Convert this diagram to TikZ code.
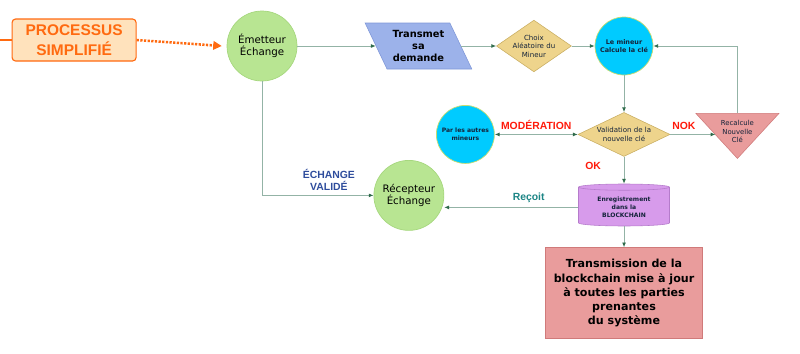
\documentclass[tikz,border=0pt]{standalone}
\usepackage{fontspec}
\setmainfont{DejaVu Sans}
\newfontfamily\labelfont{Liberation Sans}
\usepackage{xcolor}
\usetikzlibrary{arrows.meta, positioning, calc, shapes.geometric}

\definecolor{orangeline}{HTML}{FF6A10}
\definecolor{peach}{HTML}{FFE2BC}
\definecolor{leaf}{HTML}{B8E592}
\definecolor{leafrim}{HTML}{A6D77E}
\definecolor{skyblue}{HTML}{00CBFF}
\definecolor{skyrim}{HTML}{C8DC70}
\definecolor{periwinkle}{HTML}{9CB2EA}
\definecolor{peririm}{HTML}{7F97D8}
\definecolor{sand}{HTML}{EED48C}
\definecolor{sandrim}{HTML}{C9AE62}
\definecolor{rose}{HTML}{E99C9C}
\definecolor{roserim}{HTML}{D07A7A}
\definecolor{lilac}{HTML}{D79BEB}
\definecolor{lilacrim}{HTML}{B57BCB}
\definecolor{wire}{HTML}{93B3A6}
\definecolor{tipgreen}{HTML}{2F6B4B}
\definecolor{alertred}{HTML}{FF1A0A}
\definecolor{navytext}{HTML}{2E4C9C}
\definecolor{tealtext}{HTML}{1C8585}
\definecolor{inktext}{HTML}{14233A}

\tikzset{gtip/.tip={Latex[length=3.4pt, width=2.8pt, color=tipgreen]}}

\begin{document}
\begin{tikzpicture}[
  orb/.style={circle, draw=leafrim, fill=leaf, line width=0.5pt, inner sep=0pt, align=center},
  gate/.style={diamond, draw=sandrim, fill=sand, inner sep=0pt, align=center,
               text=inktext, font=\fontsize{5}{6}\selectfont},
  arr/.style={draw=wire, line width=0.6pt, -gtip},
  lbl/.style={font=\labelfont\bfseries\fontsize{7.4}{8.5}\selectfont, align=center},
  smalltext/.style={font=\fontsize{4.9}{6}\selectfont, align=center, text=inktext}
]
  \useasboundingbox (0,0) rectangle (20,-8.825);

  \node[orb, minimum size=1.75cm, font=\fontsize{7.3}{8.6}\selectfont] (emet) at (6.55,-1.15) {Émetteur\\Échange};
  \node[draw=orangeline, fill=peach, line width=0.8pt, rounded corners=2.5pt,
        minimum width=3.1cm, minimum height=1.05cm, text=orangeline, align=center,
        font=\labelfont\bfseries\fontsize{11}{14}\selectfont,
        left=2.25cm of emet, yshift=0.15cm] (proc) {PROCESSUS\\SIMPLIFIÉ};
  \node[trapezium, trapezium left angle=120, trapezium right angle=60, trapezium stretches=true,
        draw=peririm, fill=periwinkle, minimum width=2.675cm, minimum height=1.15cm, inner sep=0pt,
        align=center, font=\bfseries\fontsize{7}{8.5}\selectfont, right=1.96cm of emet] (trans)
    {Transmet\\sa\\demande};
  \node[gate, aspect=1.45, minimum width=1.85cm, minimum height=1.275cm, right=0.875cm of trans] (choix)
    {Choix\\Aléatoire du\\Mineur};
  \node[orb, draw=skyrim, fill=skyblue, minimum size=1.45cm, text=inktext,
        font=\bfseries\fontsize{4.6}{6}\selectfont, right=0.575cm of choix] (mineur) {Le mineur\\Calcule la clé};
  \node[gate, aspect=2.1, minimum width=2.3cm, minimum height=1.1cm, below=0.92cm of mineur] (valid)
    {Validation de la\\nouvelle clé};
  \node[orb, draw=skyrim, fill=skyblue, minimum size=1.45cm, text=inktext,
        font=\bfseries\fontsize{4.3}{5.6}\selectfont, left=2.075cm of valid] (autres) {Par les autres\\mineurs};

  \coordinate (tri) at ($(valid)+(2.835,0.075)$);
  \coordinate (rectop) at ($(tri)+(0,0.45)$);
  \coordinate (recin) at ($(tri)+(-0.55,-0.075)$);
  \draw[draw=roserim, fill=rose] ($(tri)+(-1.0375,0.45)$) -- ($(tri)+(1.0375,0.45)$) -- ($(tri)+(0,-0.675)$) -- cycle;
  \node[smalltext] (recalc) at (tri) {Recalcule\\Nouvelle\\Clé};

  \node[cylinder, shape border rotate=90, aspect=0.1, draw=lilacrim, fill=lilac,
        minimum width=2.275cm, minimum height=1.05cm, text=inktext, align=center,
        font=\bfseries\fontsize{4.3}{5.8}\selectfont, below=0.675cm of valid] (cyl)
    {Enregistrement\\dans la\\BLOCKCHAIN};
  \node[draw=roserim, fill=rose, minimum width=3.925cm, minimum height=2.275cm, align=center,
        font=\bfseries\fontsize{7.9}{10}\selectfont, below=0.525cm of cyl] (relay)
    {Transmission de la\\blockchain mise à jour\\à toutes les parties\\prenantes\\du système};
  \node[orb, minimum size=1.75cm, font=\fontsize{7.3}{8.6}\selectfont, left=3.35cm of cyl, yshift=0.3cm] (recep)
    {Récepteur\\Échange};

  \draw[orangeline, line width=1.1pt] (proc.west) -- (proc.west -| 0,0);
  \draw[orangeline, line width=1.8pt, dash pattern=on 1.6pt off 1pt,
        -{Triangle[length=6pt, width=6pt, color=orangeline]}] (proc.east) -- ([xshift=-3.5pt]emet.west);
  \draw[arr] (emet.east) -- (trans.west);
  \draw[arr] (trans.east) -- (choix.west);
  \draw[arr] (choix.east) -- (mineur.west);
  \draw[arr] (mineur.south) -- (valid.north);
  \draw[arr, gtip-gtip] (valid.west) -- node[above, lbl, text=alertred] {MODÉRATION} (autres.east);
  \draw[arr] (valid.east) -- node[pos=0.3, above, lbl, text=alertred] {NOK} (recin);
  \draw[arr] (rectop) |- (mineur.east);
  \draw[arr] (valid.south) -- node[pos=0.33, left=0.45cm, lbl, text=alertred] {OK} (cyl.north);
  \draw[arr] (cyl.west) -- node[pos=0.37, above, lbl, text=tealtext] {Reçoit} (cyl.west -| recep.east);
  \draw[arr] (emet.south) |- node[pos=0.8, above, lbl, text=navytext] {ÉCHANGE\\VALIDÉ} (recep.west);
  \draw[arr] (cyl.south) -- (relay.north);
\end{tikzpicture}
\end{document}
